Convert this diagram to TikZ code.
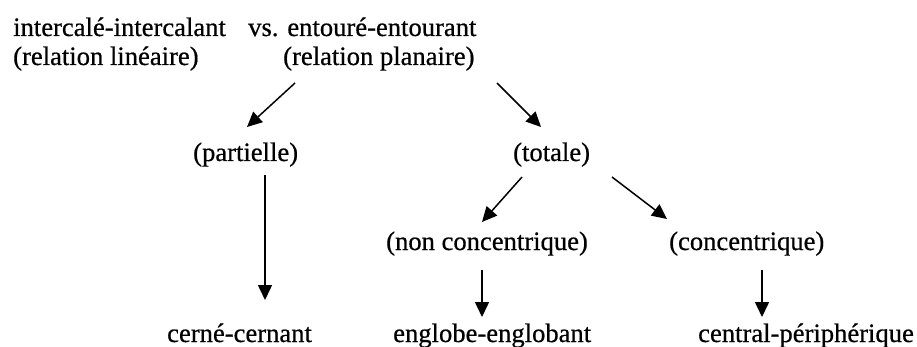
\documentclass[tikz,border=0pt]{standalone}
\usepackage{fontspec}
\setmainfont[FakeBold=0.6]{Liberation Serif}
\usetikzlibrary{arrows.meta}
\begin{document}
\begin{tikzpicture}[x=1pt,y=-1pt,
  lbl/.style={anchor=base west,inner sep=0pt,font=\fontsize{26.6}{29}\selectfont},
  arr/.style={line width=1.5pt,-{Triangle[length=15pt,width=14pt]}}]
\useasboundingbox (0,0) rectangle (917,347);
% labels
\node[lbl] (inter) at (13,36) {intercalé-intercalant};
\node[lbl] (lin)   at (13,65) {(relation linéaire)};
\node[lbl] (ento)  at (248,36) {vs. entouré-entourant};
\node[lbl] (plan)  at (283,65) {(relation planaire)};
\node[lbl] (part)  at (193,161) {(partielle)};
\node[lbl] (tot)   at (513,161) {(totale)};
\node[lbl] (ncon)  at (386,250) {(non concentrique)};
\node[lbl] (con)   at (669,250) {(concentrique)};
\node[lbl] (cer)   at (167,342) {cerné-cernant};
\node[lbl] (eng)   at (393,342) {englobe-englobant};
\node[lbl] (cen)   at (698,342) {central-périphérique};
% connectors
\draw[arr] ([xshift=12pt,yshift=-18pt]plan.base west) -- ([xshift=54pt,yshift=34pt]part.base west);
\draw[arr] ([xshift=214pt,yshift=-18pt]plan.base west) -- ([xshift=28pt,yshift=34pt]tot.base west);
\draw[arr] ([xshift=72pt,yshift=-14pt]part.base west) -- ([xshift=98pt,yshift=42pt]cer.base west);
\draw[arr] ([xshift=9pt,yshift=-16pt]tot.base west) -- ([xshift=96pt,yshift=28pt]ncon.base west);
\draw[arr] ([xshift=99pt,yshift=-16pt]tot.base west) -- ([xshift=-2pt,yshift=31pt]con.base west);
\draw[arr] ([xshift=96pt,yshift=-20pt]ncon.base west) -- ([xshift=89pt,yshift=25pt]eng.base west);
\draw[arr] ([xshift=93pt,yshift=-20pt]con.base west) -- ([xshift=64pt,yshift=25pt]cen.base west);
\end{tikzpicture}
\end{document}
